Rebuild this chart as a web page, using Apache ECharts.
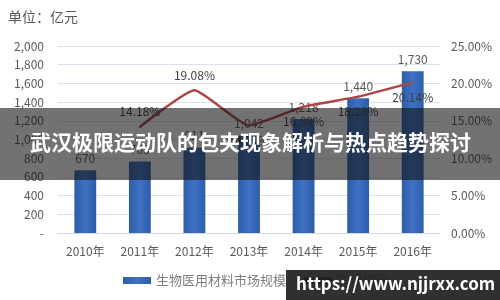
<!DOCTYPE html>
<html><head><meta charset="utf-8">
<script src="https://cdn.jsdelivr.net/npm/echarts@6/dist/echarts.min.js"></script>
<style>html,body{margin:0;padding:0;background:#fff}#c{width:500px;height:300px}</style>
</head><body><div id="c"></div>
<script>
var years = ['2010年','2011年','2012年','2013年','2014年','2015年','2016年'];
var marketSize = [670, 765, 911, 1042, 1218, 1440, 1730];
var growthRate = [null, 14.18, 19.08, 14.38, 16.89, 18.23, 20.14];
var growthLabelPos = ['top','top','top','bottom','bottom','bottom','bottom'];
var seriesNames = ['生物医用材料市场规模','同比增速'];
var unitText = '单位：亿元';
var bannerText = '武汉极限运动队的包夹现象解析与热点趋势探讨';
var watermarkText = 'https://www.njjrxx.com';

var FONT = '"Noto Sans CJK SC", "Open Sans", sans-serif';
var chart = echarts.init(document.getElementById('c'), null, {renderer:'canvas'});
chart.setOption({
  animation: false,
  textStyle: {fontFamily: FONT},
  grid: {left: 58, right: 60, top: 46, bottom: 67, containLabel: false},
  legend: {
    bottom: 8, left: 118, itemGap: 18, itemWidth: 28, itemHeight: 7,
    textStyle: {color: '#7f7f7f', fontSize: 13, fontFamily: FONT},
    data: [
      {name: seriesNames[0], icon: 'rect'},
      {name: seriesNames[1], icon: 'rect', itemStyle: {color: '#7a2a2a'}}
    ]
  },
  xAxis: {
    type: 'category', data: years,
    axisLine: {lineStyle: {color: '#d0d8e6'}},
    axisTick: {show: false},
    axisLabel: {color: '#595959', fontSize: 12, margin: 12}
  },
  yAxis: [
    {type: 'value', min: 0, max: 2000, interval: 200,
     axisLine: {show: false}, axisTick: {show: false},
     splitLine: {lineStyle: {color: '#dde3ee'}},
     axisLabel: {color: '#595959', fontSize: 12, margin: 14,
       formatter: function(v){ return v === 0 ? '-' : v.toLocaleString('en-US'); }}},
    {type: 'value', min: 0, max: 25, interval: 5,
     axisLine: {show: false}, axisTick: {show: false}, splitLine: {show: false},
     axisLabel: {color: '#595959', fontSize: 12, margin: 11,
       formatter: function(v){ return v.toFixed(2) + '%'; }}}
  ],
  series: [
    {name: seriesNames[0], type: 'bar', data: marketSize, barWidth: '40%',
     itemStyle: {color: new echarts.graphic.LinearGradient(0,0,1,0,[
       {offset:0,color:'#2e5ca8'},{offset:0.5,color:'#3e72c4'},{offset:1,color:'#2e5ca8'}])},
     label: {show: true, position: 'top', distance: 6, color: '#595959', fontSize: 12,
       formatter: function(p){ return p.value.toLocaleString('en-US'); }}},
    {name: seriesNames[1], type: 'line', yAxisIndex: 1, smooth: 0.15,
     symbol: 'circle', symbolSize: 2, showSymbol: true, showAllSymbol: true, connectNulls: false,
     lineStyle: {color: '#ad4747', width: 2.5},
     itemStyle: {color: '#ad4747'},
     data: growthRate.map(function(v, i){
       return {value: v, label: {position: growthLabelPos[i]}};
     }),
     label: {show: true, color: '#404040', fontSize: 12, distance: 8,
       formatter: function(p){ return p.value == null ? '' : p.value.toFixed(2) + '%'; }}}
  ],
  graphic: [
    {type: 'text', left: 8, top: 10, z: 10,
     style: {text: unitText, fill: '#595959', fontSize: 14, fontFamily: FONT}},
    {type: 'rect', left: 0, top: 108, z: 100,
     shape: {width: 500, height: 72}, style: {fill: 'rgba(20,20,20,0.6)'}},
    {type: 'text', left: 30, top: 132, z: 101,
     style: {text: bannerText, fill: '#ffffff', fontSize: 21, fontWeight: 'bold', fontFamily: FONT}},
    {type: 'rect', left: 286, top: 270, z: 100,
     shape: {width: 214, height: 30}, style: {fill: 'rgba(30,30,30,0.92)'}},
    {type: 'text', left: 296, top: 275, z: 101,
     style: {text: watermarkText, fill: '#ffffff', fontSize: 17, fontWeight: 'bold', fontFamily: FONT}}
  ]
});
</script></body></html>
